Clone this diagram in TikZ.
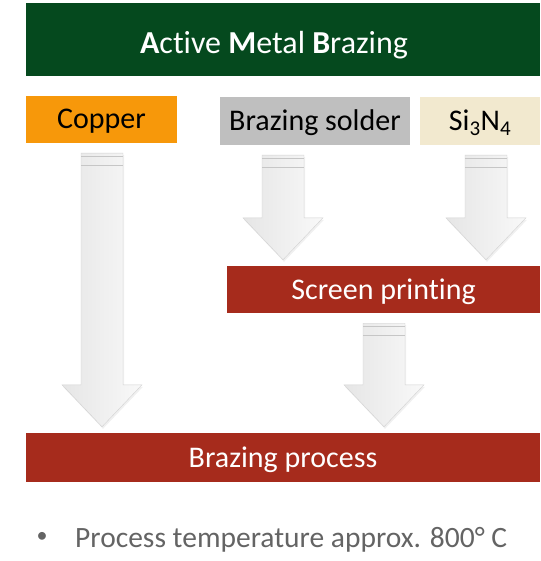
\documentclass[tikz,border=0pt]{standalone}
\usepackage{fontspec}
\setmainfont{Carlito}[Ligatures=NoCommon]
\usetikzlibrary{
	positioning,
	calc,
	shadows
}
\definecolor{titlegreen}{RGB}{5,73,30}
\definecolor{copperorange}{RGB}{247,152,10}
\definecolor{soldergray}{RGB}{191,191,191}
\definecolor{nitridebeige}{RGB}{242,233,207}
\definecolor{processred}{RGB}{166,43,28}
\definecolor{notegray}{RGB}{100,100,100}
\tikzset{
	every picture/.style={
		x=1pt,
		y=1pt,
	},
}
\tikzstyle{box} = [
	rectangle,
	inner sep=0mm,
	anchor=center,
	minimum height=47pt,
	text height=19pt,
	text depth=0pt,
	font=\fontsize{30}{34}\selectfont
]
\tikzstyle{redbox} = [box, fill=processred, text=white]
\tikzstyle{blockarrow} = [
	draw=gray!35,
	line width=.4pt,
	left color=gray!20,
	right color=gray!5,
	drop shadow={opacity=.12, shadow xshift=1pt, shadow yshift=-2pt}
]
\tikzstyle{arrowcap} = [draw=gray!45, line width=.8pt]
\newcommand{\blockarrow}[3]{
	\path[blockarrow] let \p1=(#1.south), \p2=(#2.north) in
		(#3pt-21pt,\y1-10pt) -- (#3pt+21pt,\y1-10pt) -- (#3pt+21pt,\y2+48pt)
		-- (#3pt+40pt,\y2+48pt) -- (#3pt,\y2+6pt) -- (#3pt-40pt,\y2+48pt)
		-- (#3pt-21pt,\y2+48pt) -- cycle;
	\draw[arrowcap] let \p1=(#1.south) in
		(#3pt-21pt,\y1-13pt) -- (#3pt+21pt,\y1-13pt)
		(#3pt-21pt,\y1-22pt) -- (#3pt+21pt,\y1-22pt);
}

\begin{document}
\begin{tikzpicture}
	\useasboundingbox (0,0) rectangle (540,-561);

	\node[box, fill=titlegreen, text=white, minimum width=514pt, minimum height=73pt,
		font=\fontsize{32}{36}\selectfont, text height=28.6pt] (title) at (283,-39.5)
		{\textbf{A}ctive \textbf{M}etal \textbf{B}razing\hspace*{18pt}};

	\node[box, fill=copperorange, minimum width=151pt] (copper) at (101.5,-119.5) {Copper};
	\node[box, fill=soldergray, minimum width=190pt, minimum height=48pt] (solder) at (315,-121) {Brazing solder};
	\node[box, fill=nitridebeige, minimum width=120pt, minimum height=48pt] (si) at (480,-121) {Si\textsubscript{3}N\textsubscript{4}};

	\node[redbox, minimum width=313pt] (screen) at (383.5,-289.5) {Screen printing};
	\node[redbox, minimum width=514pt, minimum height=49pt] (process) at (283,-457.5) {Brazing process};

	\foreach \s/\t/\ax in {copper/process/102, solder/screen/283, si/screen/486, screen/process/384} {
		\blockarrow{\s}{\t}{\ax}
	}

	\node[text=notegray, font=\fontsize{22}{26}\selectfont] (dot) at (42,-537) {•};
	\node[anchor=base west, text=notegray, inner sep=0mm, font=\fontsize{29.5}{34}\selectfont] (temp)
		at (75,-547) {Process temperature approx. 800° C};
\end{tikzpicture}
\end{document}
